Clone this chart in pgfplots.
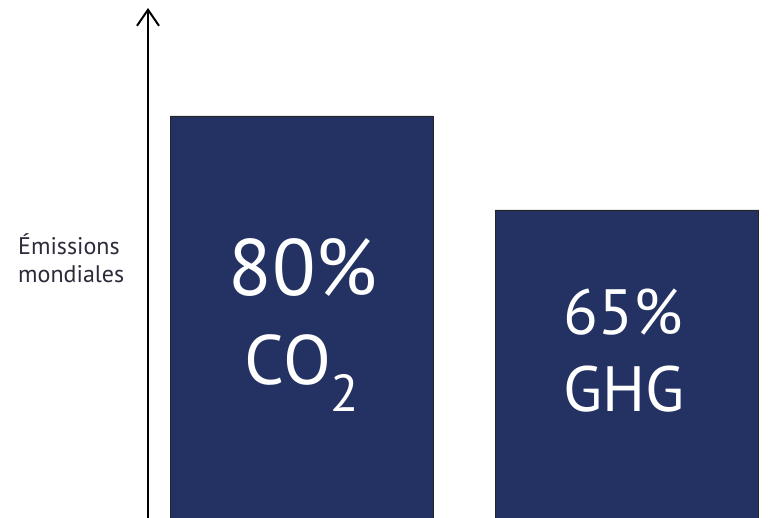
\documentclass[border=0pt]{standalone}
\usepackage{pgfplots}
\pgfplotsset{compat=1.18}
\usepackage{fontspec}
\setmainfont{PT Sans}
\usetikzlibrary{arrows.meta}
\definecolor{navy}{HTML}{233262}
\definecolor{labelgray}{HTML}{2B2B3A}
\begin{document}
\begin{tikzpicture}
\useasboundingbox (0,0) rectangle (770pt,518pt);
\begin{axis}[
  at={(148pt,-3pt)}, anchor=south west,
  scale only axis,
  width=622pt, height=513pt,
  xmin=148, xmax=770,
  ymin=0, ymax=101.33,
  axis x line=none,
  axis y line=left,
  y axis line style={line width=2pt, -{Straight Barb[length=16pt,width=22pt,line width=2pt]}},
  ytick=\empty,
  ybar, bar width=263pt,
]
\addplot[fill=navy, draw=black!85, line width=0.9pt] coordinates {(301.5,80) (626.5,61.43)};
\end{axis}
\node[text=white, anchor=base, font=\fontsize{80}{80}\selectfont] at (303pt,222pt) {80\%};
\node[text=white, anchor=base, font=\fontsize{70}{70}\selectfont] at (302pt,133pt) {CO\raisebox{-27pt}{\fontsize{52}{52}\selectfont 2}};
\node[text=white, anchor=base, font=\fontsize{64}{64}\selectfont] at (623pt,183pt) {65\%};
\node[text=white, anchor=base, font=\fontsize{64}{64}\selectfont] at (624pt,106pt) {GHG};
\node[text=labelgray, anchor=base west, align=left, inner sep=0pt, font=\fontsize{24}{28}\selectfont] at (18pt,235pt) {Émissions\\mondiales};
\end{tikzpicture}
\end{document}
